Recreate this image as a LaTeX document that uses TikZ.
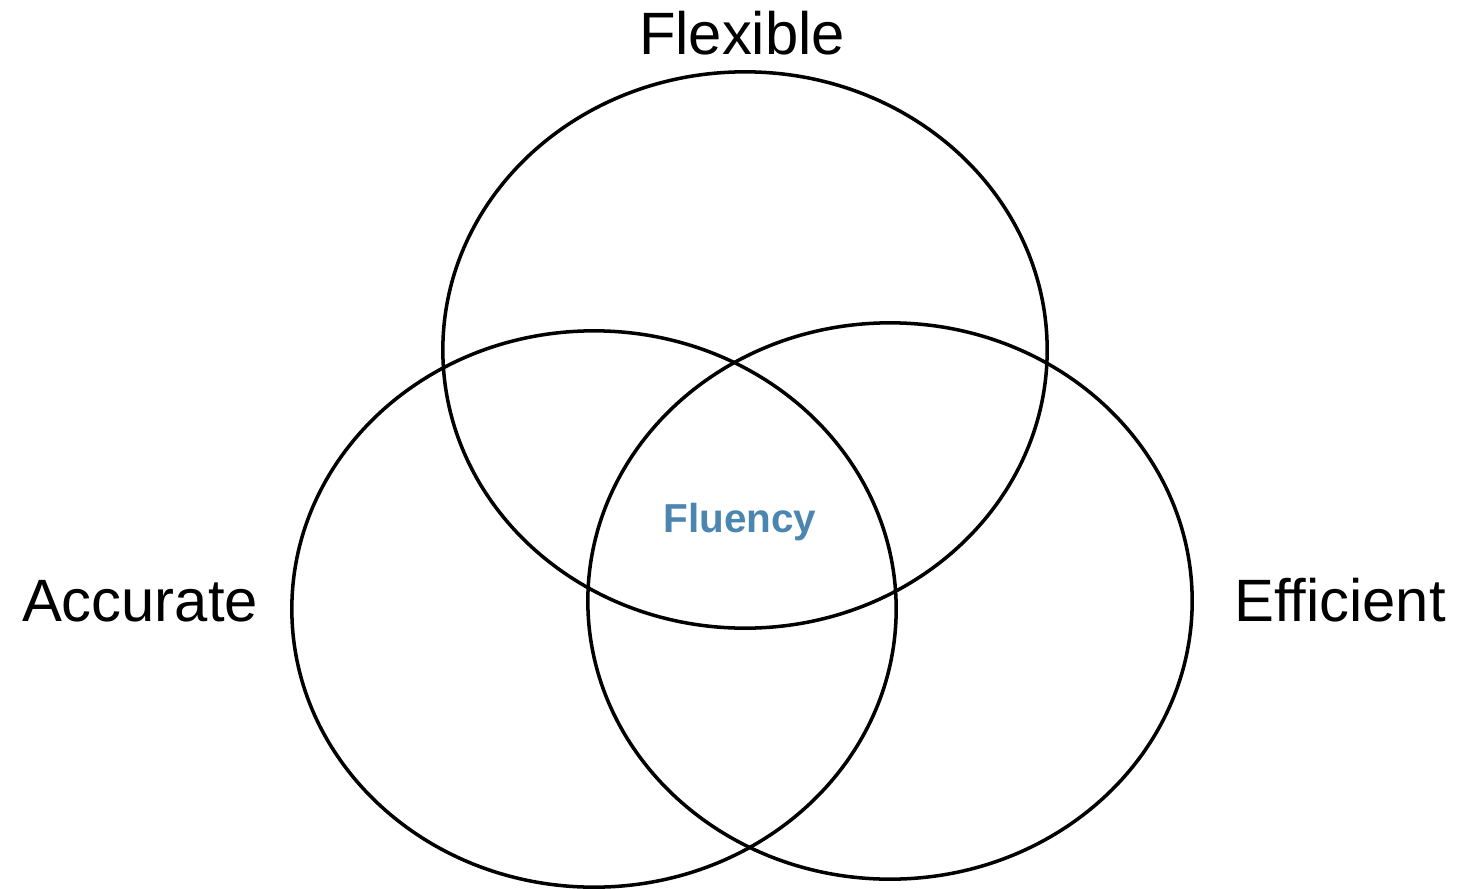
\documentclass[tikz,border=0pt]{standalone}
\usepackage{fontspec}
\setmainfont{Liberation Sans}
\usetikzlibrary{shapes.geometric}
\definecolor{fluencyblue}{RGB}{74,134,176}

\begin{document}
\begin{tikzpicture}[x=0.01cm, y=-0.01cm,
    ring/.style={ellipse, draw, line width=1pt, inner sep=0pt, minimum width=6.04cm, minimum height=5.56cm},
    label/.style={anchor=base, inner sep=0pt, font=\fontsize{17}{20}\selectfont}]
    \useasboundingbox (0,0) rectangle (1458,888);
    % the three circles
    \node[ring] (flexible) at (745,350) {};
    \node[ring] (accurate) at (594,609) {};
    \node[ring] (efficient) at (890,601) {};
    % labels
    \node[label] (flexiblelabel) at (742,55) {Flexible};
    \node[label] (accuratelabel) at (140,621) {Accurate};
    \node[label] (efficientlabel) at (1340,621) {Efficient};
    \node[anchor=base, inner sep=0pt, font=\fontsize{11.5}{13}\selectfont\bfseries, text=fluencyblue] (fluency) at (740,532) {Fluency};
\end{tikzpicture}
\end{document}
